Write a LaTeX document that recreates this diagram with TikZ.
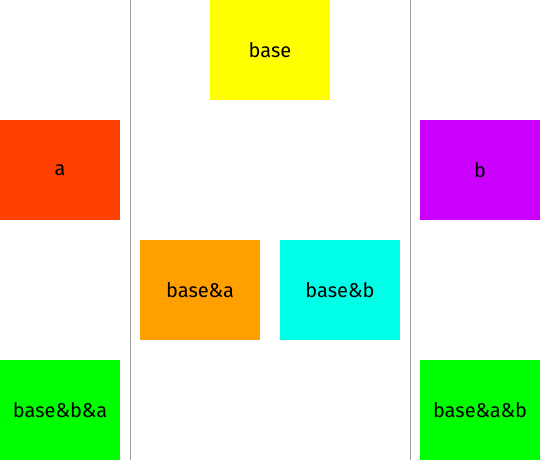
\documentclass[tikz,border=0pt]{standalone}
\usepackage{fontspec}
\setmainfont{Fira Sans}
\definecolor{cbase}{HTML}{FFFF00}
\definecolor{ca}{HTML}{FF4000}
\definecolor{cb}{HTML}{CC00FF}
\definecolor{cba}{HTML}{FFA000}
\definecolor{cbb}{HTML}{00FFE6}
\definecolor{cgreen}{HTML}{00FF00}
\definecolor{cline}{HTML}{A0A0A0}
\begin{document}
\begin{tikzpicture}[x=1pt,y=-1pt,
  box/.style={minimum width=120pt,minimum height=100pt,inner sep=0pt,outer sep=0pt,anchor=north west,font=\fontsize{20}{24}\selectfont},
  sep/.style={draw=cline,line width=1pt}]
\useasboundingbox (0,0) rectangle (540,460);
\node[box,fill=cbase] (base) at (210,0) {base};
\node[box,fill=ca] (a) at (0,120) {a};
\node[box,fill=cb] (b) at (420,120) {b};
\node[box,fill=cba] (ba) at (140,240) {base\&a};
\node[box,fill=cbb] (bb) at (280,240) {base\&b};
\node[box,fill=cgreen] (bba) at (0,360) {base\&b\&a};
\node[box,fill=cgreen] (bab) at (420,360) {base\&a\&b};
\coordinate (l1t) at (130,0);
\coordinate (l1b) at (130,460);
\coordinate (l2t) at (410,0);
\coordinate (l2b) at (410,460);
\draw[sep] (l1t) -- (l1b);
\draw[sep] (l2t) -- (l2b);
\end{tikzpicture}
\end{document}
